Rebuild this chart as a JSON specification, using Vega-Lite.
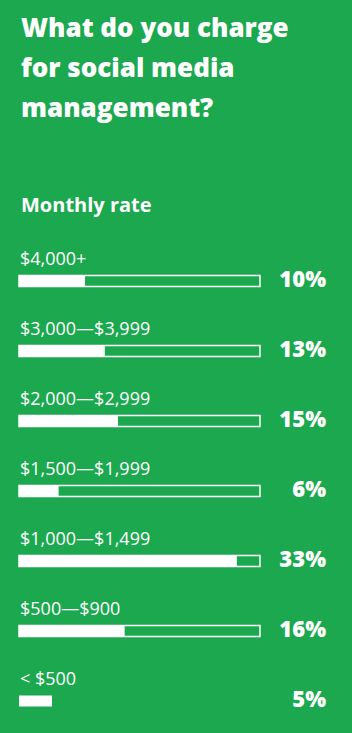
{
  "$schema": "https://vega.github.io/schema/vega-lite/v6.json",
  "width": 307,
  "height": 490,
  "padding": {"left": 18, "right": 27, "top": 16, "bottom": 0},
  "background": "#1ba84f",
  "config": {"view": {"stroke": null}, "font": "Open Sans"},
  "title": {
    "text": ["What do you charge", "for social media", "management?"],
    "subtitle": "Monthly rate",
    "anchor": "start",
    "frame": "group",
    "color": "white",
    "font": "Open Sans",
    "fontSize": 26,
    "fontWeight": 800,
    "lineHeight": 40,
    "subtitleColor": "white",
    "subtitleFont": "Open Sans",
    "subtitleFontSize": 20,
    "subtitleFontWeight": 700,
    "subtitlePadding": 74,
    "offset": 30,
    "dx": 2
  },
  "data": {
    "values": [
      {"range": "$4,000+", "pct": 10},
      {"range": "$3,000—$3,999", "pct": 13},
      {"range": "$2,000—$2,999", "pct": 15},
      {"range": "$1,500—$1,999", "pct": 6},
      {"range": "$1,000—$1,499", "pct": 33},
      {"range": "$500—$900", "pct": 16},
      {"range": "< $500", "pct": 5}
    ]
  },
  "encoding": {
    "y": {"field": "range", "type": "nominal", "sort": null, "axis": null, "scale": {"paddingInner": 0, "paddingOuter": 0}}
  },
  "layer": [
    {
      "transform": [{"filter": "datum.range != '< $500'"}],
      "mark": {"type": "bar", "height": 11, "fill": "transparent", "stroke": "white", "strokeWidth": 1.5, "cornerRadius": 0},
      "encoding": {
        "x": {"datum": 0, "type": "quantitative", "scale": {"domain": [0, 46.5]}, "axis": null},
        "x2": {"datum": 36.5}
      }
    },
    {
      "mark": {"type": "bar", "height": 11, "fill": "white"},
      "encoding": {
        "x": {"field": "pct", "type": "quantitative", "scale": {"domain": [0, 46.5]}, "axis": null}
      }
    },
    {
      "mark": {"type": "text", "align": "left", "baseline": "alphabetic", "dy": -16.5, "dx": 1, "fontSize": 18, "color": "white", "font": "Open Sans"},
      "encoding": {
        "x": {"datum": 0, "type": "quantitative", "scale": {"domain": [0, 46.5]}, "axis": null},
        "text": {"field": "range"}
      }
    },
    {
      "transform": [{"calculate": "datum.pct + '%'", "as": "pctLabel"}],
      "mark": {"type": "text", "align": "right", "baseline": "alphabetic", "dy": 5.5, "fontSize": 22, "fontWeight": 800, "color": "white", "font": "Open Sans"},
      "encoding": {
        "x": {"datum": 46.5, "type": "quantitative", "scale": {"domain": [0, 46.5]}, "axis": null},
        "text": {"field": "pctLabel"}
      }
    }
  ]
}
